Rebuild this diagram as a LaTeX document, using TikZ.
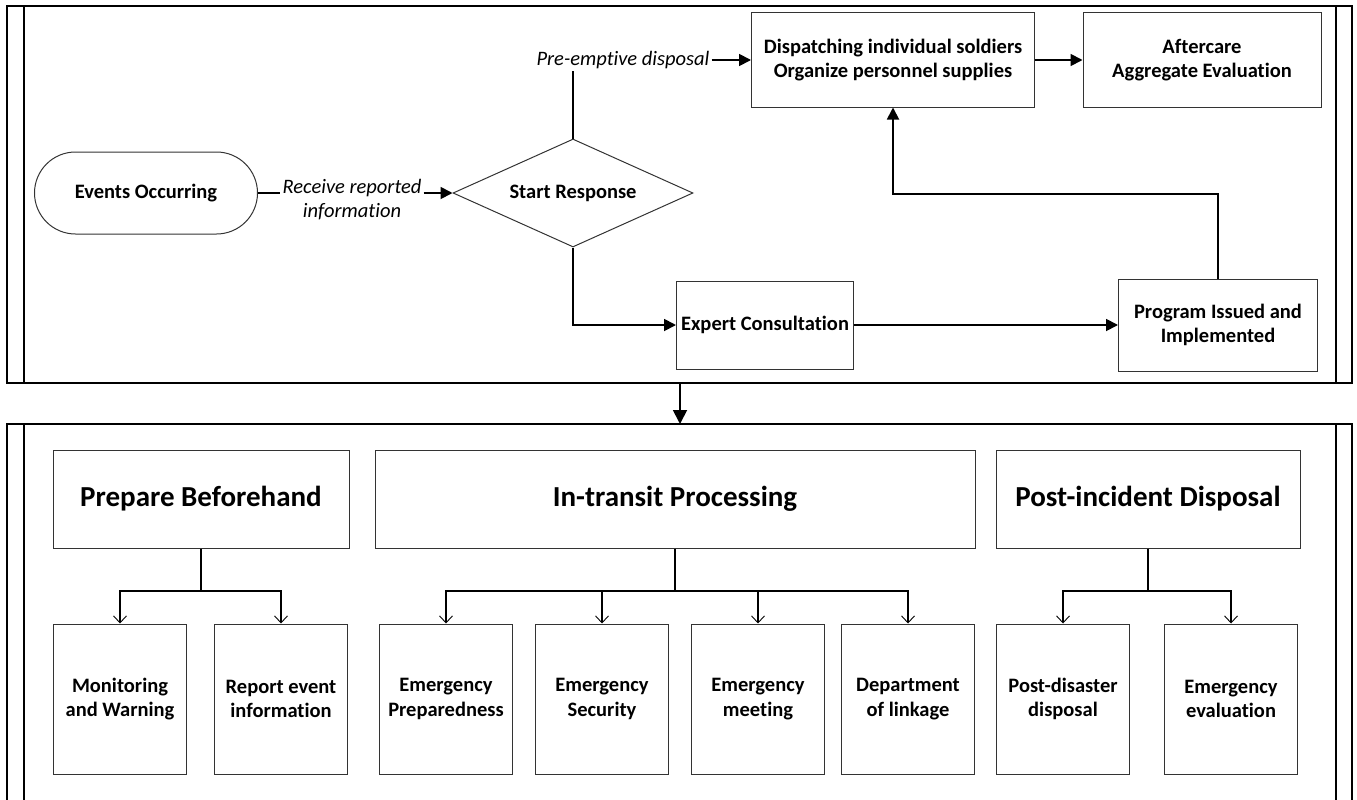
\documentclass[tikz,border=0pt]{standalone}
\usepackage{fontspec}
\setmainfont{Carlito}[Ligatures={NoCommon,NoContextual}]
\usetikzlibrary{arrows.meta,shapes.geometric}

\tikzset{
  lbl/.style={font=\bfseries\fontsize{20.5}{24.5}\selectfont, align=center},
  box/.style={lbl, draw=black!80, line width=1pt, inner sep=0pt},
  headbox/.style={draw=black!80, line width=1pt, inner sep=0pt,
    font=\bfseries\fontsize{29}{34}\selectfont, align=center,
    minimum height=98pt},
  leaf/.style={box, minimum width=133pt, minimum height=150pt},
  note/.style={font=\itshape\fontsize{20.5}{24}\selectfont, align=center,
    fill=white, inner sep=2pt},
  flow/.style={line width=1.8pt, -{Triangle[length=12pt,width=12pt]}},
  plainflow/.style={line width=1.8pt},
  tree/.style={line width=1.1pt, -{Straight Barb[length=7pt,width=13pt,line width=0.9pt]}},
  treeline/.style={line width=1.1pt},
  lane/.style={line width=1.5pt}
}

\begin{document}
\begin{tikzpicture}[x=1pt,y=-1pt]
\useasboundingbox (0,0) rectangle (1357,800);

% ---------- swimlane frames ----------
\draw[lane] (7,6) rectangle (1352,383);
\draw[lane] (24,6) -- (24,383);
\draw[lane] (1336,6) -- (1336,383);
\draw[lane] (7,800) -- (7,424) -- (1352,424) -- (1352,800);
\draw[lane] (24,424) -- (24,800);
\draw[lane] (1336,424) -- (1336,800);
\coordinate (laneA) at (680,383);
\coordinate (laneB) at (680,424);
\draw[flow, -{Triangle[length=14pt,width=14pt]}] (laneA) -- (laneB);

% ---------- response flow ----------
\node[box, minimum width=223pt, minimum height=82pt, rounded corners=41pt]
  (ev) at (146,193) {Events Occurring};
\node[box, shape=diamond, minimum width=240pt, minimum height=108pt, aspect=2.22]
  (sr) at (573,193) {Start Response};
\node[box, minimum width=283pt, minimum height=94pt]
  (disp) at (893,60) {Dispatching individual soldiers\\Organize personnel supplies};
\node[box, minimum width=238pt, minimum height=94pt]
  (aft) at (1202,60) {Aftercare\\Aggregate Evaluation};
\node[box, minimum width=177pt, minimum height=88pt]
  (exp) at (765,325) {Expert Consultation};
\node[box, minimum width=199pt, minimum height=92pt]
  (prog) at (1218,325) {Program Issued and\\Implemented};

\node[note] (rri) at (352,200) {Receive reported\\information};
\node[note] (pe) at (623,60) {Pre-emptive disposal};

\draw[plainflow] (ev.east) -- (ev.east -| rri.west);
\draw[flow] (ev.east -| rri.east) -- (sr.west);
\draw[plainflow] (sr.north) -- (sr.north |- pe.south);
\draw[flow] (pe.east) -- (pe.east -| disp.west);
\draw[flow] (disp.east) -- (aft.west);
\draw[flow] (sr.south) |- (exp.west);
\draw[flow] (exp.east) -- (prog.west);
\coordinate (turn) at (1218,194);
\draw[flow] (prog.north) -- (turn) -| (disp.south);

% ---------- phase breakdown ----------
\node[headbox, minimum width=296pt] (prep) at (201,499) {Prepare Beforehand};
\node[headbox, minimum width=600pt] (intr) at (675,499) {In-transit Processing};
\node[headbox, minimum width=304pt] (post) at (1148,499) {Post-incident Disposal};

\node[leaf] (mon) at (120,699) {Monitoring\\and Warning};
\node[leaf] (rep) at (281,699) {Report event\\information};
\node[leaf] (ep)  at (446,699) {Emergency\\Preparedness};
\node[leaf] (es)  at (602,699) {Emergency\\Security};
\node[leaf] (em)  at (758,699) {Emergency\\meeting};
\node[leaf] (dl)  at (908,699) {Department\\of linkage};
\node[leaf] (pd)  at (1063,699) {Post-disaster\\disposal};
\node[leaf] (ee)  at (1231,699) {Emergency\\evaluation};

\coordinate (bp1) at (201,591);
\coordinate (bp2) at (675,591);
\coordinate (bp3) at (1148,591);
\draw[treeline] (prep.south) -- (bp1);
\draw[treeline] (intr.south) -- (bp2);
\draw[treeline] (post.south) -- (bp3);
\draw[tree] (bp1) -| (mon.north);
\draw[tree] (bp1) -| (rep.north);
\draw[tree] (bp2) -| (ep.north);
\draw[tree] (bp2) -| (es.north);
\draw[tree] (bp2) -| (em.north);
\draw[tree] (bp2) -| (dl.north);
\draw[tree] (bp3) -| (pd.north);
\draw[tree] (bp3) -| (ee.north);
\end{tikzpicture}
\end{document}
